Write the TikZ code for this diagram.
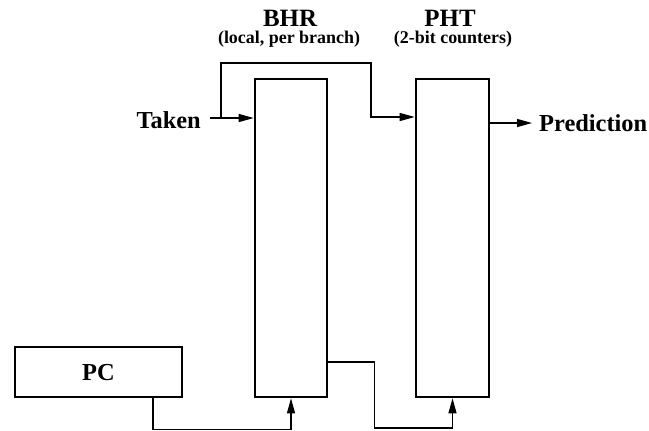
\documentclass[tikz,border=0pt]{standalone}
\usepackage{fontspec}
\setmainfont{Liberation Serif}
\usetikzlibrary{arrows.meta,calc}
\begin{document}
\begin{tikzpicture}[x=1bp,y=-1bp,
  unit/.style={draw,line width=2.6bp,rectangle,inner sep=0pt},
  wire/.style={line width=1.2bp},
  arr/.style={wire,-{Triangle[length=15bp,width=8bp]}},
  big/.style={font=\fontsize{24.5}{26}\selectfont\bfseries,inner sep=0pt},
  title/.style={font=\fontsize{25}{27}\selectfont\bfseries,inner sep=0pt},
  sub/.style={font=\fontsize{18}{20}\selectfont\bfseries,inner sep=0pt}]
\useasboundingbox (0,0) rectangle (649,430);

% storage blocks
\node[unit,minimum width=72bp,minimum height=318bp] (bhr) at (291,238) {};
\node[unit,minimum width=73bp,minimum height=318bp] (pht) at (452.5,238) {};
\node[unit,minimum width=167bp,minimum height=50bp] (pc) at (98.5,372) {};
\node[big] (pclabel) at (98.5,373) {PC};

% headings
\node[title] (bhrt) at (290,18) {BHR};
\node[sub] (bhrs) at (289,39) {(local, per branch)};
\node[title] (phtt) at (450,18) {PHT};
\node[sub] (phts) at (453,39) {(2-bit counters)};

% input and output labels
\node[big,anchor=east] (taken) at (201,120) {Taken};
\node[big,anchor=west] (pred) at (539,123) {Prediction};

% outcome shifted into the history register
\coordinate (tap) at (221,118);
\draw[arr] ([xshift=9bp]taken.east |- tap) -- (tap -| bhr.west);
% outcome also fed to the counter table
\draw[arr] (tap) -- ++(0,-55) -- ++(150,0) -- ++(0,54) -- (pht.west |- 0,117);
% predicted direction
\draw[arr] (pht.east |- pred) -- ([xshift=-7bp]pred.west);
% PC indexes the history table
\draw[arr] ([xshift=54.5bp]pc.south) -- ++(0,31) -| (bhr.south);
% history indexes the counter table
\draw[arr] ($(bhr.east)+(0,124)$) -- ++(46,0) -- ++(0,66) -| (pht.south);
\end{tikzpicture}
\end{document}
